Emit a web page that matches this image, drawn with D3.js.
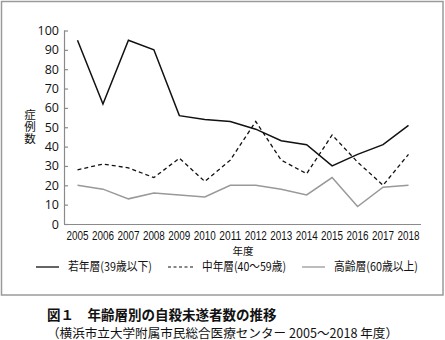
<!DOCTYPE html>
<html>
<head>
<meta charset="utf-8">
<script src="https://cdn.jsdelivr.net/npm/d3@7"></script>
<style>
  html, body { margin: 0; padding: 0; background: #fff; }
  svg { display: block; }
  text { font-family: "Noto Sans CJK JP", "Noto Sans", sans-serif; fill: #111; }
  .num { font-family: "Open Sans", "Noto Sans", sans-serif; }
  .xnum { font-family: "Liberation Sans", "Open Sans", sans-serif; }
</style>
</head>
<body>
<svg id="chart" width="445" height="340"></svg>
<script>
// 年度
const years = [2005, 2006, 2007, 2008, 2009, 2010, 2011, 2012, 2013, 2014, 2015, 2016, 2017, 2018];
// 年齢層別の自殺未遂者数
const young = [95, 62, 95, 90, 56, 54, 53, 49, 43, 41, 30, 36, 41, 51];
const middle = [28, 31, 29, 24, 34, 22, 33, 53, 33, 26, 46, 32, 20, 36];
const elderly = [20, 18, 13, 16, 15, 14, 20, 20, 18, 15, 24, 9, 19, 20];
const yTicks = [0, 10, 20, 30, 40, 50, 60, 70, 80, 90, 100];
const seriesNames = ["若年層(39歳以下)", "中年層(40〜59歳)", "高齢層(60歳以上)"];

const svg = d3.select("#chart");

// 外枠
svg.append("rect")
  .attr("x", 1.5).attr("y", 1.5).attr("width", 441.5).attr("height", 293.5)
  .attr("fill", "none").attr("stroke", "#9a9a9a").attr("stroke-width", 1.5);

const x = d3.scalePoint().domain(years).range([77.5, 408.5]);
const y = d3.scaleLinear().domain([0, 100]).range([224, 30.5]);

// 縦軸
const yAxis = svg.append("g")
  .attr("transform", "translate(64,0)")
  .call(d3.axisRight(y).tickValues(yTicks).tickSize(4).tickFormat(() => ""));
yAxis.select(".domain").attr("stroke", "#8a8a8a").attr("stroke-width", 1.2)
  .attr("d", `M0.5,${y(100)}V${y(0)}`);
yAxis.selectAll(".tick line").attr("stroke", "#8a8a8a").attr("stroke-width", 1.2);

svg.append("g").selectAll("text").data(yTicks).join("text")
  .attr("class", "num")
  .attr("x", 59).attr("y", d => y(d)).attr("dy", "0.36em")
  .attr("text-anchor", "end").attr("font-size", 12.5)
  .text(d => d);

// 横軸
svg.append("line")
  .attr("x1", 64).attr("x2", 421).attr("y1", y(0) + 0.5).attr("y2", y(0) + 0.5)
  .attr("stroke", "#8a8a8a").attr("stroke-width", 1.2);

svg.append("g").selectAll("text").data(years).join("text")
  .attr("class", "xnum")
  .attr("x", d => x(d)).attr("y", 236).attr("dy", "0.36em")
  .attr("text-anchor", "middle").attr("font-size", 12)
  .attr("textLength", 22).attr("lengthAdjust", "spacingAndGlyphs")
  .text(d => d);

// 軸ラベル
svg.append("text").attr("x", 243).attr("y", 251).attr("dy", "0.36em")
  .attr("text-anchor", "middle").attr("font-size", 10.5).text("年度");

// 縦書きの縦軸タイトル
svg.append("text")
  .attr("x", 30).attr("y", 109)
  .attr("writing-mode", "vertical-rl")
  .attr("letter-spacing", 0.5)
  .attr("font-size", 11.5)
  .text("症例数");

// 折れ線
const line = d3.line().x((d, i) => x(years[i])).y(d => y(d));
const styles = [
  { data: young, stroke: "#111", width: 1.5, dash: null },
  { data: middle, stroke: "#111", width: 1.3, dash: "4,3" },
  { data: elderly, stroke: "#999", width: 1.5, dash: null }
];
styles.slice().reverse().forEach(s => {
  svg.append("path").datum(s.data)
    .attr("d", line).attr("fill", "none")
    .attr("stroke", s.stroke).attr("stroke-width", s.width)
    .attr("stroke-dasharray", s.dash);
});

// 凡例
const legendX = [36, 168, 302];
const legend = svg.append("g").selectAll("g").data(styles).join("g")
  .attr("transform", (d, i) => `translate(${legendX[i]},267)`);
legend.append("line").attr("x1", 0).attr("x2", (d, i) => i === 1 ? 27 : 23)
  .attr("y1", 0).attr("y2", 0)
  .attr("stroke", d => d.stroke).attr("stroke-width", d => d.dash ? 1.2 : 1.3)
  .attr("stroke-dasharray", d => d.dash ? "3,2.5" : null);
legend.append("text").attr("x", (d, i) => i === 1 ? 34 : 32).attr("y", 0).attr("dy", "0.36em")
  .attr("font-size", 12).attr("textLength", 84).attr("lengthAdjust", "spacingAndGlyphs")
  .text((d, i) => seriesNames[i]);

// 図タイトル
svg.append("text").attr("x", 47).attr("y", 315).attr("dy", "0.36em")
  .attr("font-size", 13.5).attr("font-weight", "bold")
  .text("図１　年齢層別の自殺未遂者数の推移");
svg.append("text").attr("x", 47).attr("y", 333).attr("dy", "0.36em")
  .attr("font-size", 12.5).attr("textLength", 351).attr("lengthAdjust", "spacingAndGlyphs")
  .text("（横浜市立大学附属市民総合医療センター 2005〜2018 年度）");
</script>
</body>
</html>
